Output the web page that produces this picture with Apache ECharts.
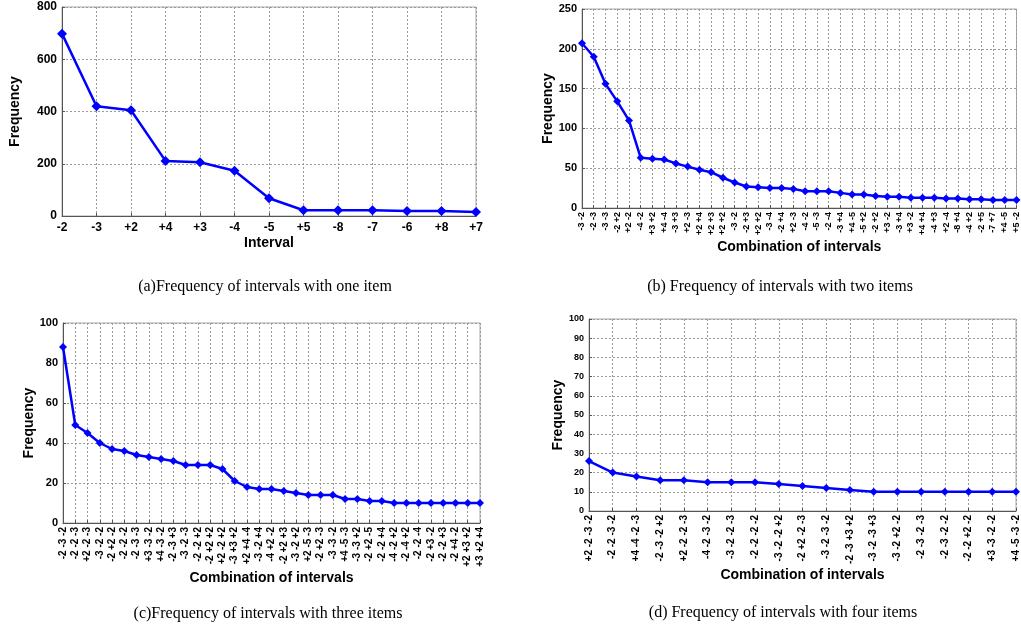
<!DOCTYPE html>
<html><head><meta charset="utf-8">
<script src="https://cdn.jsdelivr.net/npm/echarts@6/dist/echarts.min.js"></script>
<style>html,body{margin:0;padding:0;background:#fff}#c{width:1021px;height:631px}</style>
</head><body><div id="c"></div>
<script>
var catsA = ['-2','-3','+2','+4','+3','-4','-5','+5','-8','-7','-6','+8','+7'];
var valsA = [698,420,405,211,206,173,68,22,22,22,19,19,15];

var catsB = ['-3 -2','-2 -3','-3 -3','-2 +2','+2 -2','-4 -2','+3 +2','+4 -4','-3 +3','+2 -3','+2 +4','+2 +3','+2 +2','-3 -2','-2 +3','+2 +2','-3 -4','-2 +4','+2 -3','-4 -2','-5 -3','-2 -4','-3 +4','+4 -5','-5 +2','-2 +2','+3 -2','-3 +4','+3 -2','+4 +4','-4 +3','+2 -4','-8 +4','-4 +2','-2 +5','-7 +7','+4 -5','+5 -2'];
var valsB = [207,190,156,134,110,63,62,61,56,52,48,45,38,32,27,26,25,25,24,21,21,21,19,17,17,15,14,14,13,13,13,12,12,11,11,10,10,10];

var catsC = ['-2 -3 -2','-2 -2 -3','+2 -2 -3','-3 -2 -2','-2 +2 -2','-2 -2 -2','-2 -3 -3','+3 -3 -2','+4 -3 -2','-2 -3 +3','-3 -2 -3','-2 -2 +2','-2 +2 +2','+2 -2 +2','-3 +3 +2','+2 +4 -4','-3 -2 +4','-4 +2 -2','-2 +2 +3','-3 -2 +2','+2 -5 -3','-2 +2 -3','-3 -3 -2','+4 -5 -3','-3 -3 +2','-2 +2 -5','-2 -2 +4','-4 -2 +2','-2 -4 +2','-2 -2 -4','-2 +3 -2','-2 -2 +3','-2 +4 -2','+2 +3 +2','+3 +2 +4'];
var valsC = [88,49,45,40,37,36,34,33,32,31,29,29,29,27,21,18,17,17,16,15,14,14,14,12,12,11,11,10,10,10,10,10,10,10,10];

var catsD = ['+2 -2 -3 -2','-2 -2 -3 -2','+4 -4 -2 -3','-2 -3 -2 +2','+2 -2 -2 -3','-4 -2 -3 -2','-3 -2 -2 -3','-2 -2 -2 -2','-3 -2 -2 +2','-2 +2 -2 -3','-3 -2 -3 -2','-2 -3 +3 +2','-3 -2 -3 +3','-3 -2 +2 -2','-2 -3 -2 -3','-2 -3 -2 -2','-2 -2 +2 -2','+3 -3 -2 -2','+4 -5 -3 -2'];
var valsD = [26,20,18,16,16,15,15,15,14,13,12,11,10,10,10,10,10,10,10];

var captions = ['(a)Frequency of intervals with one item','(b) Frequency of intervals with two items','(c)Frequency of intervals with three items','(d) Frequency of intervals with four items'];

var chart = echarts.init(document.getElementById('c'));
var SANS = 'Liberation Sans, Arial, sans-serif';
var SERIF = 'Liberation Serif, Times New Roman, serif';
var gridLine = {show:true, lineStyle:{color:'#9a9a9a', type:[2,2], width:1}};

function xAx(idx, cats, name, fs, rot, gap){
  return {type:'category', gridIndex:idx, data:cats, boundaryGap:false,
    axisLine:{lineStyle:{color:'#555'}}, axisTick:{show:true, inside:true, length:3, lineStyle:{color:'#555'}},
    axisLabel:{interval:0, rotate:rot, fontFamily:SANS, fontWeight:'bold', fontSize:fs, color:'#000', margin:rot?4:6},
    splitLine:gridLine, name:name, nameLocation:'middle', nameGap:gap,
    nameTextStyle:{fontFamily:SANS, fontWeight:'bold', fontSize:14, color:'#000'}};
}
function yAx(idx, max, interval, fs, gap){
  return {type:'value', gridIndex:idx, min:0, max:max, interval:interval,
    axisLine:{show:true, lineStyle:{color:'#555'}}, axisTick:{show:true, inside:true, length:3, lineStyle:{color:'#555'}},
    axisLabel:{fontFamily:SANS, fontWeight:'bold', fontSize:fs, color:'#000', margin:5},
    splitLine:gridLine, name:'Frequency', nameLocation:'middle', nameRotate:90, nameGap:gap,
    nameTextStyle:{fontFamily:SANS, fontWeight:'bold', fontSize:14, color:'#000'}};
}
function ser(idx, vals, sym){
  return {type:'line', xAxisIndex:idx, yAxisIndex:idx, data:vals, symbol:'diamond', symbolSize:sym,
    clip:false, lineStyle:{color:'#0000ff', width:2.5}, itemStyle:{color:'#0000ff'}, animation:false};
}
function cap(i, x, y){
  return {type:'text', x:x, y:y, style:{text:captions[i], align:'center', verticalAlign:'middle', font:'16px '+SERIF, fill:'#000'}};
}
var border = {show:true, borderColor:'#aaa', borderWidth:1, containLabel:false};
chart.setOption({
  animation:false,
  grid:[
    Object.assign({left:62, right:545, top:7, bottom:415}, border),
    Object.assign({left:582, right:3, top:9, bottom:423}, border),
    Object.assign({left:63, right:541, top:323, bottom:108}, border),
    Object.assign({left:589, right:4, top:319, bottom:120}, border)
  ],
  xAxis:[
    xAx(0, catsA, 'Interval', 12, 0, 20),
    xAx(1, catsB, 'Combination of intervals', 9, 90, 32),
    xAx(2, catsC, 'Combination of intervals', 10, 90, 48),
    xAx(3, catsD, 'Combination of intervals', 10, 90, 56)
  ],
  yAxis:[
    yAx(0, 800, 200, 12, 40),
    yAx(1, 250, 50, 11, 27),
    yAx(2, 100, 20, 11, 24),
    yAx(3, 100, 10, 9, 20)
  ],
  series:[ser(0, valsA, 10), ser(1, valsB, 8), ser(2, valsC, 8), ser(3, valsD, 8)],
  graphic:[cap(0, 265, 287), cap(1, 780, 287), cap(2, 268, 614), cap(3, 783, 613)]
});
</script></body></html>
